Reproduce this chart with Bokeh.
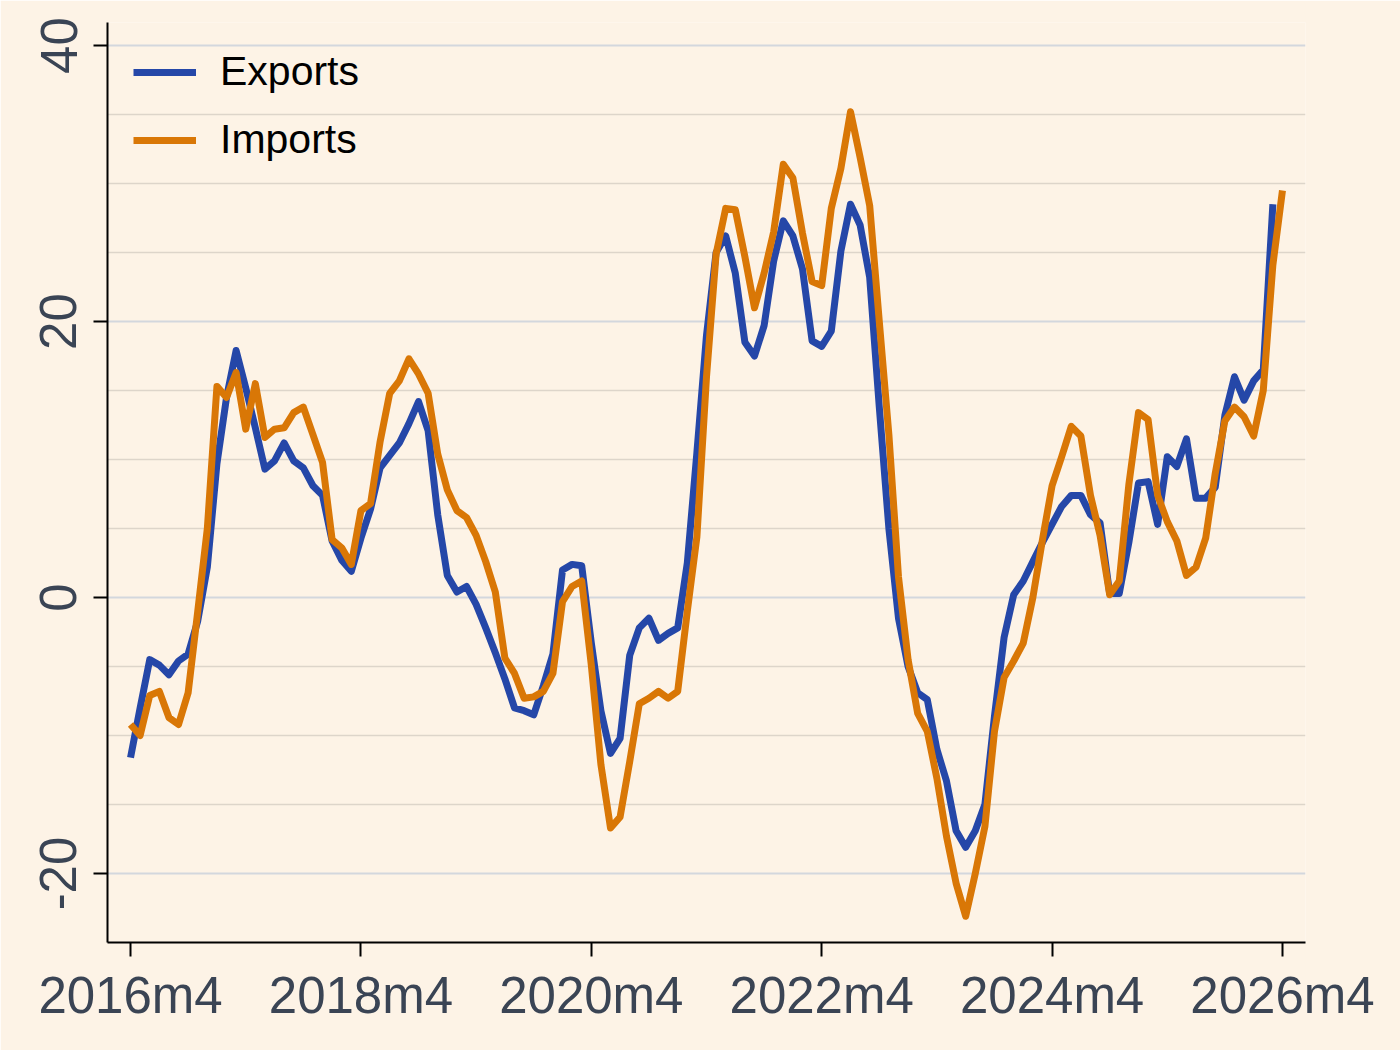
import math
from bokeh.plotting import figure
from bokeh.models import Range1d, FixedTicker, Legend, LegendItem, ColumnDataSource
from bokeh.embed import file_html
from bokeh.resources import INLINE

# ---- data (monthly, starting 2016m4) ----
exports = [-11.6, -8.0, -4.5, -4.9, -5.6, -4.6, -4.1, -1.7, 2.2, 9.7,
           14.5, 17.9, 15.2, 12.3, 9.3, 9.9, 11.2, 9.9, 9.4, 8.1,
           7.4, 4.1, 2.7, 1.9, 4.3, 6.4, 9.4, 10.3, 11.2, 12.6,
           14.2, 12.1, 6.0, 1.6, 0.4, 0.8, -0.5, -2.2, -4.0, -5.9,
           -8.0, -8.2, -8.5, -6.4, -4.1, 2.0, 2.4, 2.3, -3.3, -8.2,
           -11.3, -10.2, -4.2, -2.2, -1.5, -3.1, -2.6, -2.2, 2.5, 10.5,
           19.0, 25.0, 26.2, 23.5, 18.5, 17.5, 19.7, 24.4, 27.3, 26.2,
           23.8, 18.6, 18.2, 19.3, 25.1, 28.5, 27.0, 23.2, 13.8, 5.0,
           -1.5, -5.0, -6.9, -7.4, -11.0, -13.3, -16.9, -18.1, -16.9, -15.0,
           -8.6, -2.9, 0.2, 1.2, 2.6, 4.0, 5.3, 6.6, 7.4, 7.4,
           6.0, 5.4, 0.3, 0.3, 4.0, 8.3, 8.4, 5.3, 10.2, 9.5,
           11.5, 7.2, 7.2, 8.0, 13.2, 16.0, 14.3, 15.7, 16.5, 28.5]

imports = [-9.2, -10.0, -7.1, -6.8, -8.7, -9.2, -6.9, -1.0, 5.0, 15.3,
           14.5, 16.3, 12.2, 15.5, 11.6, 12.2, 12.3, 13.4, 13.8, 11.8,
           9.8, 4.2, 3.6, 2.4, 6.3, 6.8, 11.3, 14.8, 15.7, 17.3,
           16.2, 14.8, 10.4, 7.8, 6.3, 5.8, 4.5, 2.6, 0.4, -4.4,
           -5.5, -7.3, -7.2, -6.8, -5.5, -0.3, 0.8, 1.2, -4.9, -12.1,
           -16.7, -15.9, -11.9, -7.7, -7.3, -6.8, -7.3, -6.8, -1.0, 4.4,
           16.0, 24.9, 28.2, 28.1, 24.7, 21.0, 23.5, 26.5, 31.4, 30.4,
           26.4, 22.9, 22.6, 28.2, 31.1, 35.2, 31.9, 28.4, 20.0, 11.8,
           1.5, -4.5, -8.4, -9.7, -13.1, -17.3, -20.7, -23.1, -20.0, -16.6,
           -9.7, -5.8, -4.6, -3.3, 0.0, 4.2, 8.1, 10.2, 12.4, 11.7,
           7.4, 4.5, 0.2, 1.2, 8.2, 13.4, 12.9, 7.4, 5.5, 4.1,
           1.6, 2.2, 4.3, 9.0, 12.8, 13.8, 13.1, 11.7, 15.0, 24.1,
           29.5]

tick_months = [0, 24, 48, 72, 96, 120]
tick_labels = ["2016m4", "2018m4", "2020m4", "2022m4", "2024m4", "2026m4"]
y_ticks = [-20, 0, 20, 40]
y_tick_labels = ["-20", "0", "20", "40"]
y_minor = [-15, -10, -5, 5, 10, 15, 25, 30, 35]

BG = "#FDF3E6"
BLUE = "#2547A8"
ORANGE = "#D97706"
LABEL = "#3A4454"
FONT = "Liberation Sans"

p = figure(width=1400, height=1050, output_backend="svg", toolbar_location=None,
           x_range=Range1d(-2.4, 122.4), y_range=Range1d(-25, 41.67),
           min_border_left=107, min_border_right=95, min_border_top=22,
           min_border_bottom=108,
           background_fill_color=BG, border_fill_color=BG, outline_line_color=None)

src_e = ColumnDataSource(dict(m=list(range(len(exports))), v=exports))
src_i = ColumnDataSource(dict(m=list(range(len(imports))), v=imports))

r_e = p.line("m", "v", source=src_e, line_color=BLUE, line_width=7, line_join="round")
r_i = p.line("m", "v", source=src_i, line_color=ORANGE, line_width=7, line_join="round")

# grid
p.xgrid.visible = False
p.ygrid.ticker = FixedTicker(ticks=y_ticks, minor_ticks=y_minor)
p.ygrid.grid_line_color = "#D3D7DD"
p.ygrid.grid_line_width = 2
p.ygrid.minor_grid_line_color = "#DDD5CA"
p.ygrid.minor_grid_line_width = 1.5

# axes
for ax in (p.xaxis[0], p.yaxis[0]):
    ax.axis_line_color = "black"
    ax.axis_line_width = 2
    ax.major_tick_line_color = "black"
    ax.major_tick_line_width = 2
    ax.major_tick_out = 14
    ax.major_tick_in = 0
    ax.minor_tick_line_color = None
    ax.major_label_text_font = FONT
    ax.major_label_text_font_size = "51px"
    ax.major_label_text_color = LABEL

p.xaxis.ticker = FixedTicker(ticks=tick_months)
p.xaxis.major_label_overrides = {m: lab for m, lab in zip(tick_months, tick_labels)}
p.xaxis.major_label_standoff = 10

p.yaxis.ticker = FixedTicker(ticks=y_ticks)
p.yaxis.major_label_overrides = {t: lab for t, lab in zip(y_ticks, y_tick_labels)}
p.yaxis.major_label_orientation = "parallel"
p.yaxis.major_label_standoff = 17

legend = Legend(items=[LegendItem(label="Exports", renderers=[r_e]),
                       LegendItem(label="Imports", renderers=[r_i])],
                location="top_left", margin=26, padding=10, spacing=21,
                glyph_width=63, glyph_height=42, label_height=42,
                label_standoff=24, label_text_font=FONT,
                label_text_font_size="41px", label_text_color="black",
                label_text_baseline="middle",
                border_line_color=None, background_fill_alpha=0)
p.add_layout(legend)

open("out.html", "w").write(file_html(p, INLINE))
